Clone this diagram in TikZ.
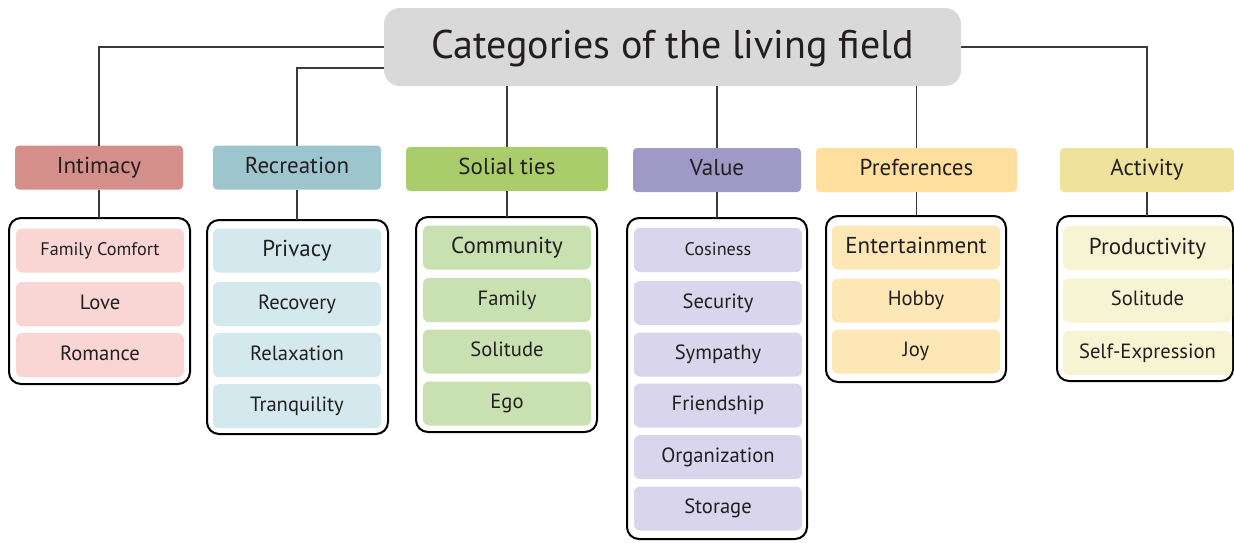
\documentclass[tikz,border=0pt]{standalone}
\usepackage{fontspec}
\setmainfont{PT Sans}
\definecolor{txt}{HTML}{231F20}
\definecolor{titlegray}{HTML}{D9D9D9}
\definecolor{linegray}{HTML}{3A3A3A}
\definecolor{cInt}{HTML}{D48F8B}
\definecolor{cRec}{HTML}{9CC5CE}
\definecolor{cSol}{HTML}{A8CD6A}
\definecolor{cVal}{HTML}{9E99C5}
\definecolor{cPre}{HTML}{FEDF9E}
\definecolor{cAct}{HTML}{EEE29C}
\definecolor{iInt}{HTML}{F9D5D3}
\definecolor{iRec}{HTML}{D3E9EE}
\definecolor{iSol}{HTML}{C9E1B1}
\definecolor{iVal}{HTML}{D8D5EC}
\definecolor{iPre}{HTML}{FEE7B6}
\definecolor{iAct}{HTML}{F6F4D3}
\begin{document}
\begin{tikzpicture}[x=1pt,y=-1pt,
  every node/.style={text=txt, inner sep=0pt, outer sep=0pt, text depth=0pt},
  titlebox/.style={fill=titlegray, rounded corners=16pt, minimum width=577pt, minimum height=78pt, font=\fontsize{40}{48}\selectfont, text height=22pt},
  catbox/.style={rounded corners=4pt, minimum height=44pt, font=\fontsize{23}{28}\selectfont, text height=11pt},
  grpbox/.style={draw=black, line width=2pt, rounded corners=12pt, fill=white},
  itembox/.style={rounded corners=6pt, minimum height=44pt, font=\fontsize{20.6}{24}\selectfont, text height=10pt},
  bigtext/.style={font=\fontsize{23}{28}\selectfont, text height=12pt},
  smalltext/.style={font=\fontsize{18.2}{22}\selectfont, text height=10pt},
  link/.style={draw=linegray, line width=1.2pt}
]
\useasboundingbox[fill=white] (0,0) rectangle (1234,542);

% title
\node[titlebox] (title) at (672.5,47) {Categories of the living field};

% categories
\node[catbox, fill=cInt, minimum width=168pt] (int) at (99,167.5) {Intimacy};
\node[catbox, fill=cRec, minimum width=168pt] (rec) at (297,167.5) {Recreation};
\node[catbox, fill=cSol, minimum width=202pt] (sol) at (507,169) {Solial ties};
\node[catbox, fill=cVal, minimum width=168pt] (val) at (717,170) {Value};
\node[catbox, fill=cPre, minimum width=201pt] (pre) at (916.5,170) {Preferences};
\node[catbox, fill=cAct, minimum width=174pt] (act) at (1147,170) {Activity};

% connectors title -> categories
\draw[link] (title.west) -| (int.north);
\draw[link] ([yshift=-21pt]title.west) -| (rec.north);
\draw[link] (sol.north) -- (sol.north |- title.south);
\draw[link] (val.north) -- (val.north |- title.south);
\draw[link] (pre.north) -- (pre.north |- title.south);
\draw[link] (title.east) -| (act.north);

% group boxes
\node[grpbox, minimum width=181pt, minimum height=166pt] (gint) at (99.5,301) {};
\node[grpbox, minimum width=181pt, minimum height=214pt] (grec) at (297.5,327) {};
\node[grpbox, minimum width=181pt, minimum height=215pt] (gsol) at (506.5,324.5) {};
\node[grpbox, minimum width=180pt, minimum height=321pt] (gval) at (717,378.5) {};
\node[grpbox, minimum width=180pt, minimum height=166pt] (gpre) at (916,299) {};
\node[grpbox, minimum width=176pt, minimum height=165pt] (gact) at (1145,298.5) {};

% connectors categories -> groups
\draw[link] (int.south) -- (int.south |- gint.north);
\draw[link] (rec.south) -- (rec.south |- grec.north);
\draw[link] (sol.south) -- (sol.south |- gsol.north);
\draw[link] (val.south) -- (val.south |- gval.north);
\draw[link] (pre.south) -- (pre.south |- gpre.north);
\draw[link] (act.south) -- (act.south |- gact.north);

% Intimacy items
\node[itembox, fill=iInt, minimum width=168pt, smalltext] (int1) at (100,250.5) {Family Comfort};
\node[itembox, fill=iInt, minimum width=168pt] (int2) at (100,304) {Love};
\node[itembox, fill=iInt, minimum width=168pt] (int3) at (100,355) {Romance};

% Recreation items
\node[itembox, fill=iRec, minimum width=168pt, bigtext] (rec1) at (297,250.5) {Privacy};
\node[itembox, fill=iRec, minimum width=168pt] (rec2) at (297,304) {Recovery};
\node[itembox, fill=iRec, minimum width=168pt] (rec3) at (297,355) {Relaxation};
\node[itembox, fill=iRec, minimum width=168pt] (rec4) at (297,406) {Tranquility};

% Solial ties items
\node[itembox, fill=iSol, minimum width=168pt, bigtext] (sol1) at (507,247.5) {Community};
\node[itembox, fill=iSol, minimum width=168pt] (sol2) at (507,300) {Family};
\node[itembox, fill=iSol, minimum width=168pt] (sol3) at (507,351.5) {Solitude};
\node[itembox, fill=iSol, minimum width=168pt] (sol4) at (507,403.5) {Ego};

% Value items
\node[itembox, fill=iVal, minimum width=168pt, smalltext] (val1) at (718,250) {Cosiness};
\node[itembox, fill=iVal, minimum width=168pt] (val2) at (718,303) {Security};
\node[itembox, fill=iVal, minimum width=168pt] (val3) at (718,354.5) {Sympathy};
\node[itembox, fill=iVal, minimum width=168pt] (val4) at (718,405.5) {Friendship};
\node[itembox, fill=iVal, minimum width=168pt] (val5) at (718,457) {Organization};
\node[itembox, fill=iVal, minimum width=168pt] (val6) at (718,508.5) {Storage};

% Preferences items
\node[itembox, fill=iPre, minimum width=168pt, bigtext] (pre1) at (916,247.5) {Entertainment};
\node[itembox, fill=iPre, minimum width=168pt] (pre2) at (916,300.5) {Hobby};
\node[itembox, fill=iPre, minimum width=168pt] (pre3) at (916,351.5) {Joy};

% Activity items
\node[itembox, fill=iAct, minimum width=169pt, bigtext] (act1) at (1147.5,248) {Productivity};
\node[itembox, fill=iAct, minimum width=169pt] (act2) at (1147.5,300.5) {Solitude};
\node[itembox, fill=iAct, minimum width=169pt] (act3) at (1147.5,353) {Self-Expression};
\end{tikzpicture}
\end{document}
